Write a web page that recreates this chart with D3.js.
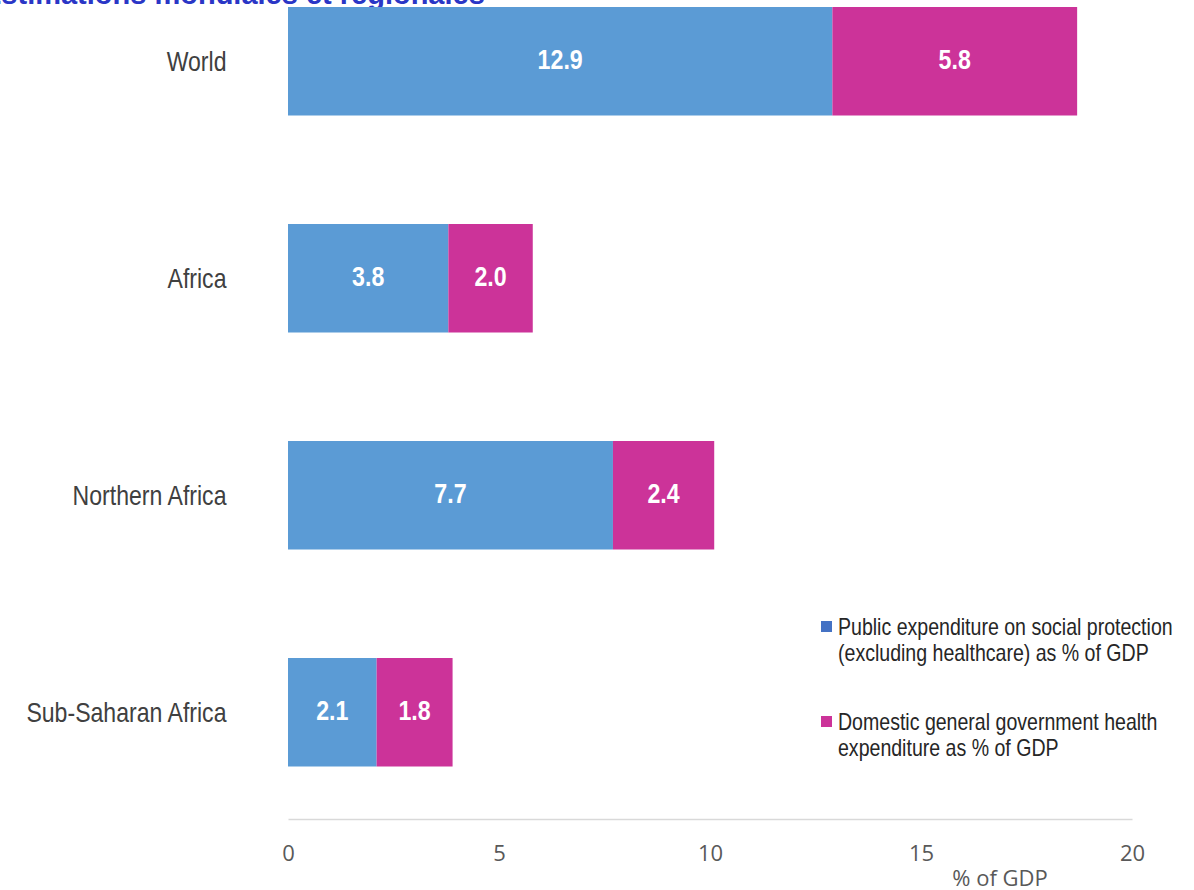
<!DOCTYPE html>
<html>
<head>
<meta charset="utf-8">
<script src="https://cdn.jsdelivr.net/npm/d3@7"></script>
<style>
  html, body { margin: 0; padding: 0; background: #fff; overflow: hidden; }
  svg { display: block; }
  .cat { font-family: "Liberation Sans", Arial, sans-serif; font-size: 27px; fill: #404040; }
  .val { font-family: "Liberation Sans", Arial, sans-serif; font-size: 27px; font-weight: bold; fill: #fff; }
  .tick-lbl { font-family: "Open Sans", "DejaVu Sans", sans-serif; font-size: 22px; fill: #595959; }
  .leg { font-family: "Liberation Sans", Arial, sans-serif; font-size: 24px; fill: #262626; }
  .title { font-family: "Liberation Sans", Arial, sans-serif; font-size: 29px; font-weight: bold; fill: #2a36c6; }
</style>
</head>
<body>
<svg id="chart" width="1194" height="890"></svg>
<script>
  // data
  const categories = ["World", "Africa", "Northern Africa", "Sub-Saharan Africa"];
  const socialProtection = [12.9, 3.8, 7.7, 2.1];
  const healthExpenditure = [5.8, 2.0, 2.4, 1.8];
  const seriesNames = [
    ["Public expenditure on social protection", "(excluding healthcare) as % of GDP"],
    ["Domestic general government health", "expenditure as % of GDP"]
  ];
  const ticks = [0, 5, 10, 15, 20];
  const colors = ["#5b9bd5", "#cc3399"];
  const legendColors = ["#4472c4", "#cc3399"];

  // the source uses a condensed face; squeeze Arial metrics to match
  const NARROW_CAT = 0.855, NARROW_VAL = 0.86, NARROW_LEG = 0.815;

  const svg = d3.select('#chart');

  const x = d3.scaleLinear().domain([0, 20]).range([288, 1132]);
  const y = d3.scaleBand().domain(categories).range([7, 766.5]).paddingInner(0.5).paddingOuter(0);

  // title, clipped at the top edge as in the source
  svg.append('text').attr('class', 'title').attr('x', -18).attr('y', 4)
    .text('Estimations mondiales et régionales');

  const rows = categories.map((c, i) => ({ cat: c, segs: [
    { x0: 0, x1: socialProtection[i], v: socialProtection[i], k: 0 },
    { x0: socialProtection[i], x1: socialProtection[i] + healthExpenditure[i], v: healthExpenditure[i], k: 1 }
  ] }));

  const row = svg.selectAll('g.row').data(rows).join('g').attr('class', 'row');
  const segs = d => d.segs.map(s => ({ ...s, cat: d.cat }));
  row.selectAll('rect').data(segs).join('rect')
    .attr('x', d => x(d.x0)).attr('width', d => x(d.x1) - x(d.x0))
    .attr('y', d => y(d.cat)).attr('height', y.bandwidth())
    .attr('fill', d => colors[d.k]);
  row.selectAll('text.val').data(segs).join('text')
    .attr('class', 'val')
    .attr('transform', d => `translate(${(x(d.x0) + x(d.x1)) / 2},${y(d.cat) + y.bandwidth() / 2 + 8}) scale(${NARROW_VAL},1)`)
    .attr('text-anchor', 'middle')
    .text(d => d.v.toFixed(1));

  // category labels
  svg.selectAll('text.cat').data(categories).join('text').attr('class', 'cat')
    .attr('transform', d => `translate(226.5,${y(d) + y.bandwidth() / 2 + 9.5}) scale(${NARROW_CAT},1)`)
    .attr('text-anchor', 'end')
    .text(d => d);

  // x axis
  const axis = d3.axisBottom(x).tickValues(ticks).tickSize(0).tickPadding(26);
  const ax = svg.append('g').attr('transform', 'translate(0,819)').call(axis);
  ax.select('.domain').attr('stroke', '#d9d9d9').attr('stroke-width', 1.5);
  ax.selectAll('.tick text').attr('class', 'tick-lbl').attr('font-family', null).attr('font-size', null)
    .attr('fill', null);

  svg.append('text').attr('class', 'tick-lbl').attr('x', 1000).attr('y', 886)
    .attr('text-anchor', 'middle').text('% of GDP');

  // legend
  const legY = [621, 716];
  const leg = svg.selectAll('g.leg-item').data(seriesNames).join('g').attr('class', 'leg-item')
    .attr('transform', (d, i) => `translate(821,${legY[i]})`);
  leg.append('rect').attr('x', 0).attr('y', 0).attr('width', 11).attr('height', 11)
    .attr('fill', (d, i) => legendColors[i]);
  leg.selectAll('text').data(d => d).join('text').attr('class', 'leg')
    .attr('transform', (d, j) => `translate(17,${14 + j * 26}) scale(${NARROW_LEG},1)`)
    .text(d => d);
</script>
</body>
</html>
